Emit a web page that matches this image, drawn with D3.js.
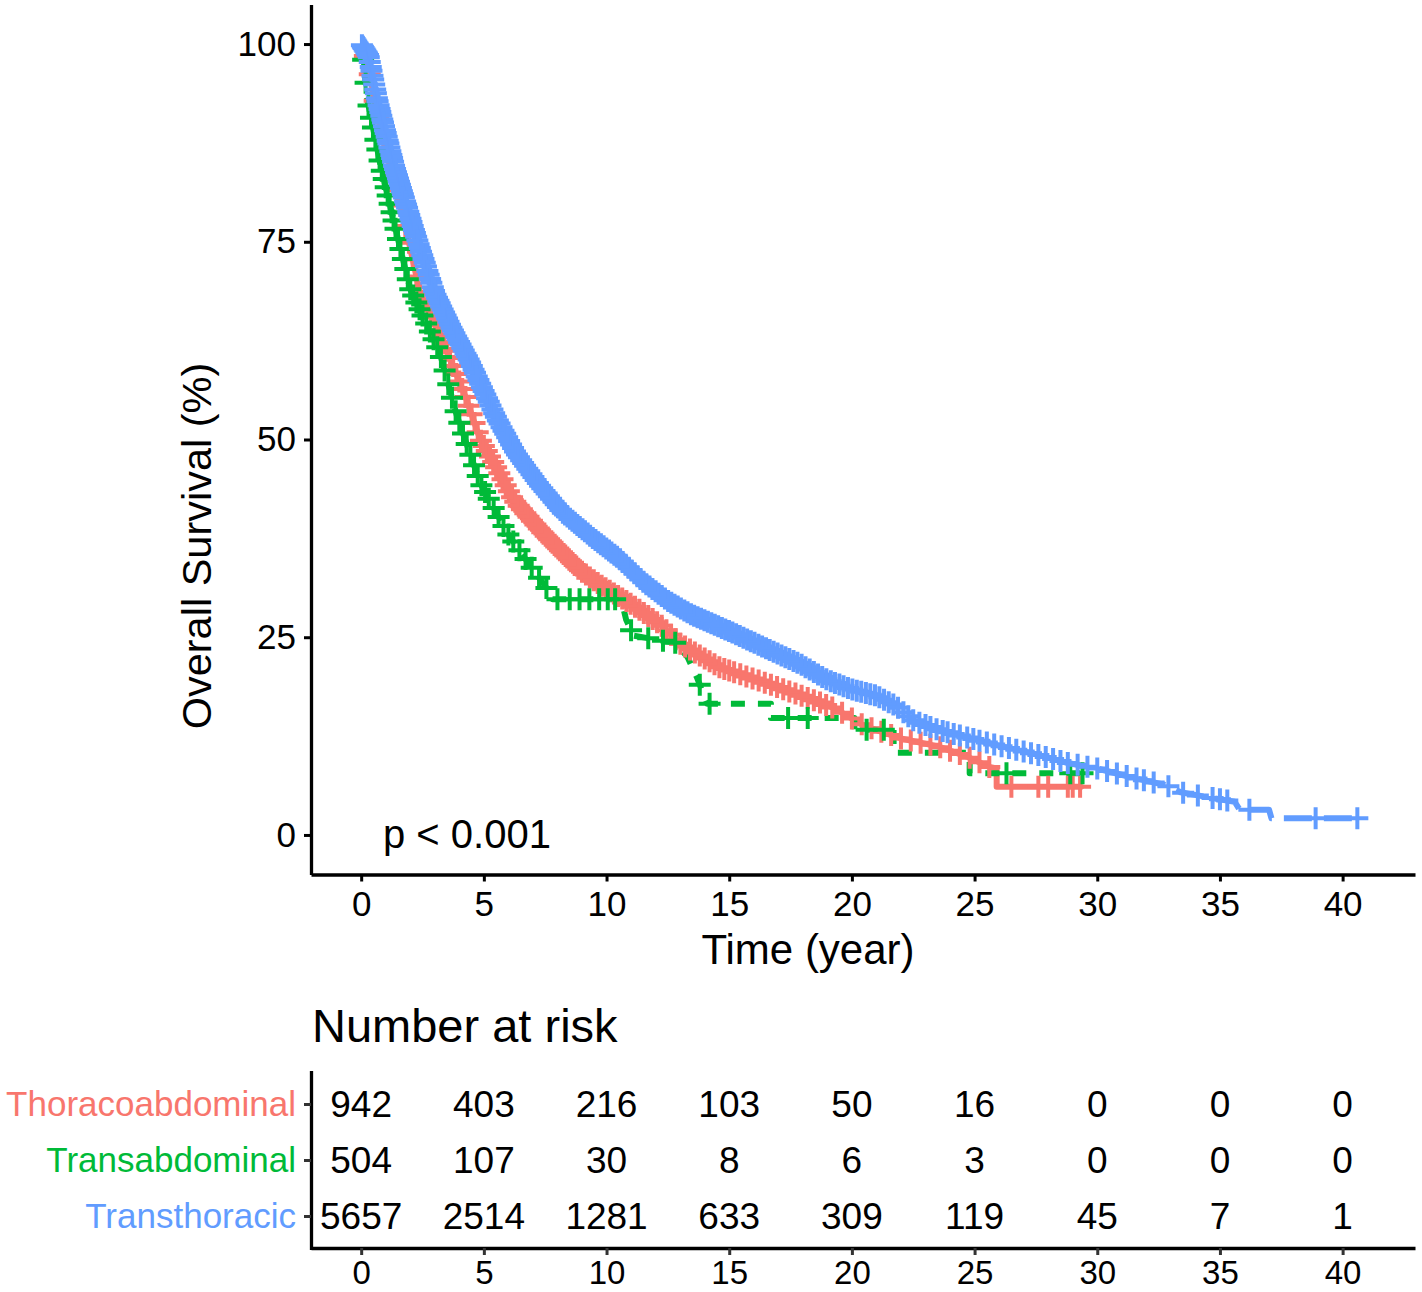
<!DOCTYPE html>
<html>
<head>
  <script src="https://d3js.org/d3.v7.min.js"></script>
  <style>
    body { margin: 0; background: #fff; }
    text { font-family: "Liberation Sans", Arial, sans-serif; }
  </style>
</head>
<body>
  <svg id="km"></svg>
  <script>
    // strata, colours and the at-risk table
    const groups = ["Thoracoabdominal", "Transabdominal", "Transthoracic"]
    const groupColors = ["#F8766D", "#00BA38", "#619CFF"]
    const timeTicks = [0, 5, 10, 15, 20, 25, 30, 35, 40]
    const survTicks = [0, 25, 50, 75, 100]
    const riskThoraco = [942, 403, 216, 103, 50, 16, 0, 0, 0]
    const riskTransabd = [504, 107, 30, 8, 6, 3, 0, 0, 0]
    const riskTransthor = [5657, 2514, 1281, 633, 309, 119, 45, 7, 1]

    // survival curves [year, %]
    const curveThoraco = [[0, 100], [0.3, 97], [0.6, 92], [1.1, 86], [1.8, 77], [2.4, 68.5], [3.4, 62], [4.3, 55], [4.85, 50], [5.5, 46.5], [6.2, 42.4], [7.4, 38.2], [8.9, 33.5], [9.75, 31.6], [11, 29.2], [12.2, 26.6], [13, 24.2], [14.6, 21.2], [16.5, 19.2], [18.4, 17.1], [19.3, 16.0], [20.5, 13.8], [22, 12.2], [23.5, 11.2], [24.7, 9.9], [25.6, 8.6], [25.9, 8.4], [25.9, 6.1], [29.4, 6.1]]
    const curveTransabd = [[0, 100], [0.1, 97.5], [0.25, 93], [0.8, 84.5], [1.45, 76], [2.0, 69], [2.6, 65], [3.2, 61], [3.9, 53], [4.85, 44.5], [5.95, 38.2], [6.9, 34], [7.7, 30.6], [7.8, 29.8], [10.6, 29.8], [10.8, 27.2], [11.1, 25.2], [12.8, 24.3], [13.3, 22.5], [13.7, 19.8], [14.1, 16.6], [16.7, 16.6], [16.7, 14.8], [20.1, 14.8], [20.1, 13.3], [21.7, 13.3], [21.7, 10.4], [24.8, 10.4], [24.8, 7.8], [29.6, 7.8]]
    const curveTransthor = [[0, 100], [0.3, 98.5], [0.65, 93], [1.35, 84.5], [2.2, 76], [3.0, 68.5], [3.7, 64], [4.4, 60], [5.5, 52.8], [6.3, 48.3], [7.2, 44.5], [8.2, 40.8], [9.5, 37.4], [10.5, 35], [11.5, 32], [12.5, 29.6], [13.5, 27.8], [15.2, 25.5], [16.5, 23.6], [17.9, 21.6], [19.0, 19.6], [20.0, 18.4], [21.0, 17.6], [21.8, 16.3], [22.5, 14.5], [23.5, 13.3], [24.6, 12.4], [26.1, 11.2], [27.5, 10.2], [28.8, 9.1], [30, 8.4], [31.5, 7.2], [32.8, 6.3], [33.4, 5.4], [34.8, 4.6], [35.6, 4.2], [35.8, 3.2], [37.0, 3.2], [37.1, 2.1], [40.7, 2.1]]

    // censoring times (years)
    const censorThoraco = [0.15, 0.35, 0.55, 0.7, 0.9, 1.1, 1.3, 1.45, 1.6, 1.8, 1.95, 2.1, 2.25, 2.4, 2.55, 2.7, 2.85, 3.0, 3.12, 3.25, 3.38, 3.5, 3.62, 3.75, 3.88, 4.0, 4.12, 4.25, 4.38, 4.5, 4.62, 4.75, 4.88, 5.0, 5.12, 5.25, 5.38, 5.5, 5.63, 5.76, 5.89, 6.02, 6.15, 6.28, 6.42, 6.55, 6.69, 6.82, 6.96, 7.1, 7.24, 7.38, 7.52, 7.66, 7.8, 7.95, 8.1, 8.25, 8.4, 8.55, 8.7, 8.85, 9.0, 9.16, 9.32, 9.48, 9.64, 9.8, 9.96, 10.13, 10.3, 10.47, 10.64, 10.81, 10.98, 11.16, 11.34, 11.52, 11.7, 11.88, 12.06, 12.25, 12.44, 12.63, 12.82, 13.01, 13.2, 13.4, 13.6, 13.8, 14.0, 14.2, 14.4, 14.6, 14.8, 15.0, 15.2, 15.45, 15.7, 15.95, 16.2, 16.45, 16.7, 16.95, 17.2, 17.45, 17.7, 17.95, 18.2, 18.45, 18.7, 18.95, 19.2, 19.6, 20.0, 20.4, 20.8, 21.2, 21.6, 22.0, 22.4, 22.8, 23.2, 23.6, 24.0, 24.4, 24.8, 25.2, 25.6, 26.5, 27.6, 28.0, 28.8, 29.0, 29.3]
    const censorTransabd = [0.08, 0.18, 0.3, 0.4, 0.48, 0.58, 0.66, 0.75, 0.84, 0.92, 1.0, 1.08, 1.16, 1.24, 1.32, 1.4, 1.5, 1.6, 1.7, 1.8, 1.9, 2.0, 2.12, 2.25, 2.38, 2.5, 2.65, 2.8, 2.95, 3.1, 3.25, 3.4, 3.55, 3.7, 3.85, 4.0, 4.15, 4.3, 4.45, 4.6, 4.75, 4.9, 5.05, 5.2, 5.4, 5.6, 5.8, 6.0, 6.2, 6.45, 6.7, 6.95, 7.25, 7.55, 8.0, 8.5, 8.9, 9.3, 9.7, 10.05, 10.35, 11.0, 11.7, 12.3, 12.8, 13.8, 14.2, 17.4, 18.2, 20.6, 21.3, 26.3, 28.9, 29.4]
    const censorTransthor = [0.03, 0.07, 0.1, 0.14, 0.17, 0.21, 0.24, 0.28, 0.31, 0.35, 0.39, 0.42, 0.46, 0.49, 0.53, 0.57, 0.6, 0.64, 0.67, 0.71, 0.75, 0.78, 0.82, 0.86, 0.89, 0.93, 0.97, 1.0, 1.04, 1.08, 1.11, 1.15, 1.19, 1.23, 1.26, 1.3, 1.34, 1.38, 1.42, 1.46, 1.5, 1.54, 1.58, 1.62, 1.66, 1.7, 1.74, 1.79, 1.83, 1.87, 1.92, 1.96, 2.01, 2.05, 2.1, 2.15, 2.19, 2.24, 2.29, 2.34, 2.39, 2.44, 2.49, 2.54, 2.59, 2.64, 2.7, 2.75, 2.81, 2.86, 2.92, 2.97,
      3.03, 3.09, 3.15, 3.2, 3.26, 3.32, 3.38, 3.44, 3.5, 3.56, 3.62, 3.68, 3.74, 3.8, 3.87, 3.93, 3.99, 4.05, 4.12, 4.18, 4.25, 4.31, 4.38, 4.44, 4.51, 4.58, 4.64, 4.71, 4.78, 4.85, 4.92, 4.99, 5.06, 5.13, 5.2, 5.27, 5.35, 5.42, 5.49, 5.57, 5.64, 5.72, 5.8, 5.87, 5.95, 6.03, 6.11, 6.19, 6.27, 6.35, 6.43, 6.52, 6.6, 6.68, 6.77, 6.85, 6.94, 7.02, 7.11, 7.2, 7.29, 7.38, 7.47, 7.56, 7.65, 7.74, 7.84, 7.93, 8.02, 8.12, 8.22, 8.31, 8.41, 8.51, 8.61, 8.71, 8.81, 8.91, 9.02, 9.12, 9.23, 9.33, 9.44, 9.55, 9.66, 9.77, 9.88, 9.99,
      10.1, 10.2, 10.32, 10.43, 10.55, 10.66, 10.78, 10.9, 11.02, 11.14, 11.26, 11.38, 11.5, 11.62, 11.75, 11.87, 12.0, 12.12, 12.25, 12.38, 12.51, 12.64, 12.77, 12.9, 13.03, 13.17, 13.3, 13.44, 13.57, 13.71, 13.85, 13.99, 14.13, 14.27, 14.41, 14.55, 14.7, 14.84, 14.99, 15.13, 15.28, 15.43, 15.58, 15.73, 15.88, 16.03, 16.19, 16.34, 16.5, 16.65, 16.81, 16.97, 17.13, 17.29, 17.45, 17.62, 17.78, 17.95, 18.11, 18.28, 18.45, 18.62, 18.79, 18.96, 19.14, 19.31, 19.49, 19.66, 19.84, 20.02, 20.2, 20.38, 20.57, 20.75, 20.94, 21.12, 21.31, 21.5, 21.69, 21.88,
      22.1, 22.3, 22.5, 22.75, 23.0, 23.2, 23.45, 23.7, 23.9, 24.15, 24.4, 24.7, 24.95, 25.2, 25.5, 25.8, 26.1, 26.4, 26.7, 27.0, 27.3, 27.6, 27.9, 28.2, 28.5, 28.8, 29.2, 29.6, 30.0, 30.4, 30.8, 31.2, 31.6, 31.9, 32.3, 32.9, 33.5, 34.1, 34.7, 35.0, 35.3, 36.2, 38.9, 40.6]

    const curves = [curveThoraco, curveTransabd, curveTransthor]
    const censors = [censorThoraco, censorTransabd, censorTransthor]
    const riskRows = [riskThoraco, riskTransabd, riskTransthor]
    const dashes = [null, "14,13", "28,12"]

    const svg = d3.select("#km").attr("width", 1422).attr("height", 1292)

    const x = d3.scaleLinear().domain([-2.045, 42.95]).range([311, 1415])
    const y = d3.scaleLinear().domain([-5, 105]).range([874.5, 4.5])

    // survival at time t on a curve
    function survAt(curve, t) {
      let i = d3.bisector(d => d[0]).right(curve, t) - 1
      if (i < 0) return curve[0][1]
      if (i >= curve.length - 1) return curve[curve.length - 1][1]
      let a = curve[i], b = curve[i + 1]
      if (b[0] == a[0]) return b[1]
      return a[1] + (b[1] - a[1]) * (t - a[0]) / (b[0] - a[0])
    }

    function styleAxis(g, tickColor, fontSize) {
      g.select(".domain").attr("stroke", "#000").attr("stroke-width", 3.3)
      g.selectAll(".tick line").attr("stroke", tickColor).attr("stroke-width", 3)
      g.selectAll(".tick text").attr("font-size", fontSize).style("fill", "#000")
        .attr("font-family", "Liberation Sans, Arial, sans-serif")
    }

    // main panel axes
    const yAxis = svg.append("g").attr("transform", "translate(311,0)")
      .call(d3.axisLeft(y).tickValues(survTicks).tickSize(7).tickSizeOuter(0).tickPadding(8))
    styleAxis(yAxis, "#000", 35)

    const xAxis = svg.append("g").attr("transform", "translate(0,874.5)")
      .call(d3.axisBottom(x).tickValues(timeTicks).tickSize(7).tickSizeOuter(0).tickPadding(10))
    styleAxis(xAxis, "#000", 35)

    svg.append("text")
      .attr("x", 808).attr("y", 964)
      .attr("text-anchor", "middle").attr("font-size", 42)
      .text("Time (year)")

    svg.append("text")
      .attr("transform", "translate(211,546) rotate(-90)")
      .attr("text-anchor", "middle").attr("font-size", 41.5)
      .text("Overall Survival (%)")

    // step lines
    const line = d3.line().x(d => x(d[0])).y(d => y(d[1]))
    curves.forEach((c, i) => {
      svg.append("path")
        .datum(c)
        .attr("d", line)
        .attr("fill", "none")
        .attr("stroke", groupColors[i])
        .attr("stroke-width", 6)
        .attr("stroke-linejoin", "round")
        .attr("stroke-dasharray", dashes[i])
    })

    // censor marks
    censors.forEach((times, i) => {
      svg.append("g").selectAll("path")
        .data(times)
        .join("path")
        .attr("transform", t => `translate(${x(t)},${y(survAt(curves[i], t))})`)
        .attr("d", "M-11,0H11M0,-11V11")
        .attr("stroke", groupColors[i])
        .attr("stroke-width", 4)
    })

    svg.append("text")
      .attr("x", 383).attr("y", 848)
      .attr("font-size", 40)
      .text("p < 0.001")

    // number at risk table
    svg.append("text")
      .attr("x", 312).attr("y", 1042)
      .attr("font-size", 47)
      .text("Number at risk")

    const yRisk = d3.scalePoint().domain(groups).range([1070.4, 1249.6]).padding(0.6)

    const riskY = svg.append("g").attr("transform", "translate(311,0)")
      .call(d3.axisLeft(yRisk).tickSize(7).tickSizeOuter(0).tickPadding(8))
    styleAxis(riskY, "#333", 35)
    riskY.selectAll(".tick text").style("fill", (d, i) => groupColors[i])

    const riskX = svg.append("g").attr("transform", "translate(0,1248)")
      .call(d3.axisBottom(x).tickValues(timeTicks).tickSize(7).tickSizeOuter(0).tickPadding(6))
    styleAxis(riskX, "#333", 33)

    riskRows.forEach((row, i) => {
      svg.append("g").selectAll("text")
        .data(row)
        .join("text")
        .attr("x", (d, j) => x(timeTicks[j]))
        .attr("y", yRisk(groups[i]))
        .attr("dy", "0.36em")
        .attr("text-anchor", "middle")
        .attr("font-size", 37)
        .text(d => d)
    })
  </script>
</body>
</html>
